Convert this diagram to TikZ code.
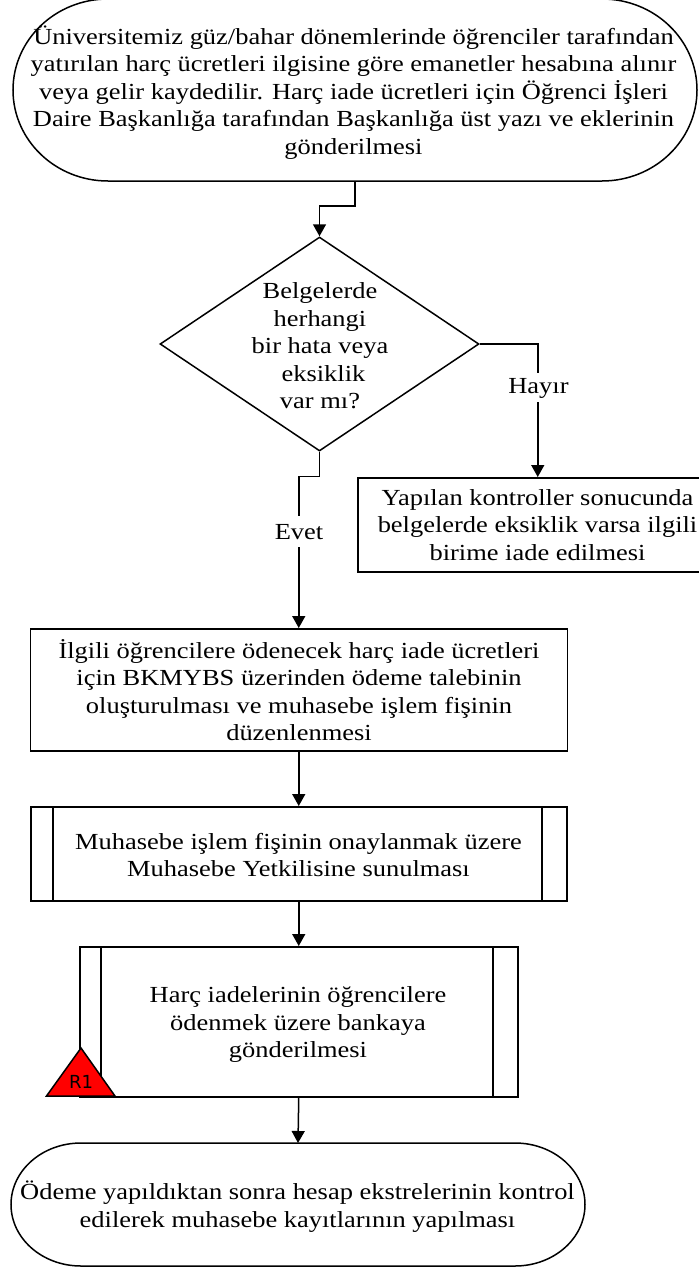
\documentclass[tikz,border=0pt]{standalone}
\usepackage{fontspec}
\setmainfont[FakeStretch=1.15]{Liberation Serif}
\newfontfamily\rfont{DejaVu Sans}
\usetikzlibrary{arrows.meta,shapes.geometric}
\tikzset{
 lbl/.style={inner sep=0pt,align=center,font=\fontsize{23}{27.5}\selectfont},
 frame/.style={draw=black,line width=1.5pt},
 boxed/.style={frame,inner sep=0pt,anchor=north west},
 ghost/.style={inner sep=0pt,outer sep=0pt},
 conn/.style={draw=black,line width=1.5pt,-{Triangle[length=12pt,width=13pt]}},
 gap/.style={fill=white,inner sep=0pt,minimum width=62pt}
}
\begin{document}
\begin{tikzpicture}[x=1pt,y=-1pt]
\useasboundingbox (0,0) rectangle (699,1267);
\clip (0,0) rectangle (699,1267);
% terminators
\node[ghost,minimum width=684pt,minimum height=182pt] (start) at (355,90) {};
\draw[frame] (13,90) .. controls (13,39.7) and (55.5,-1) .. (108,-1) -- (602,-1) .. controls (654.5,-1) and (697,39.7) .. (697,90) .. controls (697,140.3) and (654.5,181) .. (602,181) -- (108,181) .. controls (55.5,181) and (13,140.3) .. (13,90) -- cycle;
\node[ghost,minimum width=573pt,minimum height=123pt] (finish) at (298,1204.5) {};
\draw[frame] (11,1204.5) .. controls (11,1170.5) and (42.3,1143) .. (81,1143) -- (515,1143) .. controls (553.7,1143) and (585,1170.5) .. (585,1204.5) .. controls (585,1238.5) and (553.7,1266) .. (515,1266) -- (81,1266) .. controls (42.3,1266) and (11,1238.5) .. (11,1204.5) -- cycle;
\node[lbl] (starttext) at (353.5,92.5) {Üniversitemiz güz/bahar dönemlerinde öğrenciler tarafından\\yatırılan harç ücretleri ilgisine göre emanetler hesabına alınır\\veya gelir kaydedilir. Harç iade ücretleri için Öğrenci İşleri\\Daire Başkanlığa tarafından Başkanlığa üst yazı ve eklerinin\\gönderilmesi};
\node[lbl] (finishtext) at (297.5,1206.5) {Ödeme yapıldıktan sonra hesap ekstrelerinin kontrol\\edilerek muhasebe kayıtlarının yapılması};
% decision
\node[frame,diamond,minimum width=319pt,minimum height=214pt,inner sep=0pt] (dec) at (319.5,344) {};
\node[lbl] (dectext) at (320,346) {Belgelerde\\herhangi\\bir hata veya\\\hspace*{7pt}eksiklik\\var mı?};
% boxes
\node[boxed,minimum width=360pt,minimum height=94pt] (ret) at (357,477) {};
\node[lbl] (rettext) at (537.5,525) {Yapılan kontroller sonucunda\\belgelerde eksiklik varsa ilgili\\birime  iade edilmesi};
\node[boxed,minimum width=537pt,minimum height=122pt] (pay) at (29.5,628) {};
\node[lbl] (paytext) at (299,690) {İlgili öğrencilere ödenecek harç iade ücretleri\\için BKMYBS üzerinden ödeme talebinin\\oluşturulması ve muhasebe işlem fişinin\\düzenlenmesi};
\node[boxed,minimum width=536pt,minimum height=94pt] (ok) at (30,806) {};
\draw[frame] (53,806) -- (53,900) (542,806) -- (542,900);
\node[lbl] (oktext) at (298.5,855) {Muhasebe işlem fişinin onaylanmak üzere\\Muhasebe Yetkilisine sunulması};
\node[boxed,minimum width=438pt,minimum height=150pt] (bank) at (79,946) {};
\draw[frame] (101,946) -- (101,1096) (493,946) -- (493,1096);
\node[lbl] (banktext) at (298,1024.5) {Harç iadelerinin öğrencilere\\ödenmek üzere bankaya\\gönderilmesi};
% risk
\draw[fill=red,draw=black,line width=1.5pt] (81,1048) -- (115,1096) -- (46.5,1096) -- cycle;
\node[inner sep=0pt,font=\rfont\fontsize{18}{18}\selectfont] (risk) at (81,1081.5) {R1};
% connectors
\coordinate (e1) at (355,206);
\coordinate (e2) at (319.5,476.5);
\draw[conn] (start.south) -- (e1) -| (dec.north);
\draw[conn] (dec.east) -| (ret.north);
\draw[conn] (dec.south) -- (e2) -| (pay.north);
\draw[conn] (pay.south) -- (ok.north);
\draw[conn] (ok.south) -- (bank.north);
\draw[conn] (bank.south) -- (finish.north);
\node[gap,minimum height=29pt] (gapno) at (538,387.5) {};
\node[gap,minimum height=31pt] (gapyes) at (298,531.5) {};
\node[lbl] (no) at (538.5,388) {Hayır};
\node[lbl] (yes) at (299,532) {Evet};
\end{tikzpicture}
\end{document}
